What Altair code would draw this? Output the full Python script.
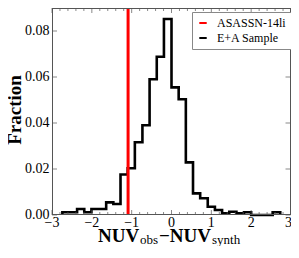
import altair as alt
import pandas as pd

# ---- data ----
bin_edges = [-2.74, -2.56, -2.37, -2.19, -2.01, -1.83, -1.64, -1.46, -1.28, -1.10,
             -0.92, -0.73, -0.55, -0.37, -0.19, 0.00, 0.18, 0.36, 0.54, 0.72,
             0.91, 1.09, 1.27, 1.45, 1.63, 1.82, 2.00, 2.18, 2.36, 2.54, 2.73]
fractions = [0.0012, 0.0012, 0.0026, 0.0012, 0.0026, 0.0026, 0.0055, 0.0048, 0.0176, 0.0203,
             0.0316, 0.0390, 0.0590, 0.0688, 0.0852, 0.0555, 0.0503, 0.0229, 0.0094, 0.0073,
             0.0036, 0.0022, 0.0007, 0.0014, 0.0007, 0.0012, 0.0, 0.0, 0.0, 0.0012]
asassn_value = -1.09
series_names = ["ASASSN-14li", "E+A Sample"]
series_colors = ["#ff0000", "#000000"]
x_major = [-3, -2, -1, 0, 1, 2, 3]
x_labels = ["\u22123", "\u22122", "\u22121", "0", "1", "2", "3"]
x_minor = [-2.8, -2.6, -2.4, -2.2, -1.8, -1.6, -1.4, -1.2, -0.8, -0.6, -0.4, -0.2,
           0.2, 0.4, 0.6, 0.8, 1.2, 1.4, 1.6, 1.8, 2.2, 2.4, 2.6, 2.8]
y_major = [0.0, 0.02, 0.04, 0.06, 0.08]
y_labels = ["0.00", "0.02", "0.04", "0.06", "0.08"]
y_title = "Fraction"
x_title_parts = ["NUV", "obs", "\u2212NUV", "synth"]

W, H = 239, 207
FONT = "Liberation Serif"

# step outline points (matplotlib histtype='step')
xs = [bin_edges[0]] + bin_edges[:-1] + [bin_edges[-1], bin_edges[-1]]
ys = [0.0] + fractions + [fractions[-1], 0.0]
hist_df = pd.DataFrame({"x": xs, "y": ys, "order": list(range(len(xs))),
                        "series": series_names[1]})

xscale = alt.Scale(domain=[-3, 3], nice=False, zero=False)
yscale = alt.Scale(domain=[0, 0.09], nice=False)
cscale = alt.Scale(domain=series_names, range=series_colors)

hist = alt.Chart(hist_df).mark_line(interpolate="step-after", strokeWidth=2.6,
                                    strokeJoin="miter").encode(
    x=alt.X("x:Q", scale=xscale, axis=None),
    y=alt.Y("y:Q", scale=yscale, axis=None),
    order="order:Q",
    color=alt.Color("series:N", scale=cscale,
                    legend=alt.Legend(title=None, orient="none", legendX=140, legendY=4,
                                      symbolType="stroke", symbolSize=55,
                                      symbolStrokeWidth=2, labelFont=FONT,
                                      labelFontSize=12, labelColor="#000",
                                      labelOffset=8, rowPadding=3, padding=5,
                                      fillColor="white", strokeColor="#888",
                                      cornerRadius=0)),
)

rule_df = pd.DataFrame({"x": [asassn_value], "series": [series_names[0]]})
red = alt.Chart(rule_df).mark_rule(strokeWidth=3).encode(
    x=alt.X("x:Q", scale=xscale, axis=None),
    color=alt.Color("series:N", scale=cscale),
)

tick_color = "#555"
xmaj_df = pd.DataFrame({"v": x_major, "label": x_labels})
xmin_df = pd.DataFrame({"v": x_minor})
ymaj_df = pd.DataFrame({"v": y_major, "label": y_labels})

def xticks(df, length, ypix):
    return alt.Chart(df).mark_tick(size=length, thickness=1, color=tick_color).encode(
        x=alt.X("v:Q", scale=xscale, axis=None), y=alt.value(ypix))

def yticks(df, length, xpix):
    return alt.Chart(df).mark_tick(size=length, thickness=1, color=tick_color).encode(
        y=alt.Y("v:Q", scale=yscale, axis=None), x=alt.value(xpix))

ticks = [xticks(xmaj_df, 5, H - 2.5), xticks(xmin_df, 3, H - 1.5),
         xticks(xmaj_df, 5, 2.5), xticks(xmin_df, 3, 1.5),
         yticks(ymaj_df, 5, 2.5), yticks(ymaj_df, 5, W - 3)]

# frame (right side drawn slightly inside so it is not clipped)
frame = [
    alt.Chart(pd.DataFrame({"a": [0]})).mark_rule(color="#555", strokeWidth=1).encode(
        x=alt.value(0.5), y=alt.value(0), y2=alt.value(H)),
    alt.Chart(pd.DataFrame({"a": [0]})).mark_rule(color="#555", strokeWidth=1).encode(
        x=alt.value(W - 0.5), y=alt.value(0), y2=alt.value(H)),
    alt.Chart(pd.DataFrame({"a": [0]})).mark_rule(color="#555", strokeWidth=1).encode(
        y=alt.value(0.5), x=alt.value(0), x2=alt.value(W)),
    alt.Chart(pd.DataFrame({"a": [0]})).mark_rule(color="#555", strokeWidth=1).encode(
        y=alt.value(H - 0.5), x=alt.value(0), x2=alt.value(W)),
]

xlabels = alt.Chart(xmaj_df.iloc[:-1]).mark_text(
    baseline="top", align="center", font=FONT, fontSize=14, color="#000").encode(
    x=alt.X("v:Q", scale=xscale, axis=None), y=alt.value(H + 1), text="label:N")
xlabel_last = alt.Chart(xmaj_df.iloc[-1:]).mark_text(
    baseline="top", align="right", font=FONT, fontSize=14, color="#000", dx=1).encode(
    x=alt.X("v:Q", scale=xscale, axis=None), y=alt.value(H + 1), text="label:N")
ylabels = alt.Chart(ymaj_df).mark_text(
    baseline="middle", align="right", font=FONT, fontSize=14, color="#000").encode(
    y=alt.Y("v:Q", scale=yscale, axis=None), x=alt.value(-2.5), text="label:N")

def tpart(text, xpix, ypix, size, weight, angle=0, align="left"):
    return alt.Chart(pd.DataFrame({"t": [text]})).mark_text(
        align=align, baseline="alphabetic", font=FONT, fontSize=size, angle=angle,
        fontWeight=weight, color="#000").encode(
        text="t:N", x=alt.value(xpix), y=alt.value(ypix))

xtitle = [tpart(x_title_parts[0], 46, 234, 19, "bold"),
          tpart(x_title_parts[1], 88, 235.5, 13, "normal"),
          tpart(x_title_parts[2], 107, 234, 19, "bold"),
          tpart(x_title_parts[3], 160, 235.5, 13, "normal")]
ytitle = tpart(y_title, -31.5, 102, 19, "bold", angle=270, align="center")

chart = alt.layer(hist, red, *ticks, *frame, xlabels, xlabel_last, ylabels,
                  *xtitle, ytitle).properties(
    width=W, height=H,
    autosize=alt.AutoSizeParams(type="none"),
    padding={"left": 44, "top": 0, "right": 0, "bottom": 31},
).configure_view(stroke=None)

chart.save("out.html", embed_options={"renderer": "svg", "actions": False})
